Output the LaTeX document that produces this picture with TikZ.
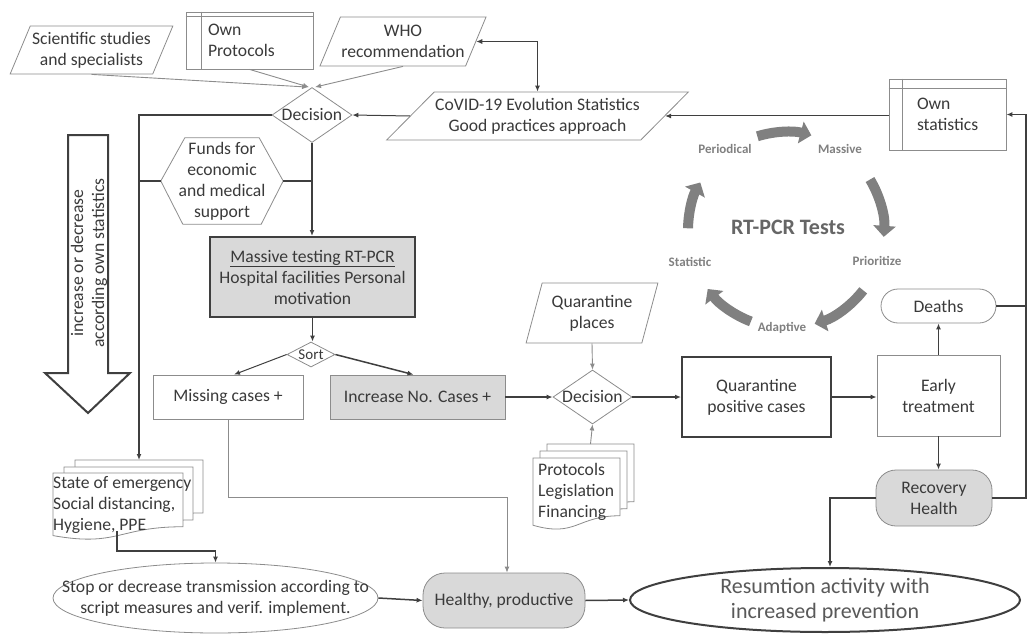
\documentclass[tikz,border=0pt]{standalone}
\usepackage{fontspec}
\setmainfont{Carlito}
\usetikzlibrary{shapes.geometric,shapes.misc,arrows.meta,calc}
\definecolor{txt}{HTML}{3A3A3A}
\definecolor{ln}{HTML}{3F3F3F}
\definecolor{bd}{HTML}{8C8C8C}
\definecolor{gf}{HTML}{D9D9D9}
\definecolor{cy}{HTML}{808080}
\newcommand\flowdoc[4]{%
  \filldraw[draw=bd, line width=0.8pt, fill=white] (#1,#2) -- (#3,#2) -- (#3,{#2+0.802*#4}) .. controls ({(#1+#3)/2},{#2+0.802*#4}) and ({(#1+#3)/2},{#2+1.107*#4}) .. (#1,{#2+0.934*#4}) -- cycle;}
\begin{document}
\begin{tikzpicture}[x=1pt,y=-1pt,
  every node/.style={font=\fontsize{17.6}{21}\selectfont, text=txt},
  base/.style={draw=bd, line width=0.8pt, fill=white},
  para/.style={base, shape=trapezium, trapezium stretches=true, inner sep=1pt, align=center},
  dia/.style={base, shape=diamond, inner sep=0pt},
  tip/.style={-{Latex[length=6pt,width=5pt]}},
  thickln/.style={draw=ln, line width=1.5pt},
  thickar/.style={thickln, tip},
  midar/.style={draw=ln, line width=1pt, tip},
  thinar/.style={draw=bd, line width=0.9pt, tip},
  cyc/.style={draw=cy, line width=10pt, -{Triangle[length=11pt,width=22pt]}},
  cyclab/.style={font=\fontsize{13}{15}\selectfont\bfseries, text=cy}
]
\useasboundingbox (0,0) rectangle (1028,634);

% ---- top inputs
\node[para, trapezium left angle=62.5, trapezium right angle=117.5, minimum width=163pt, minimum height=48pt] (sci) at (91.5,50) {Scientific studies\\and specialists};
\node[base, text width=83pt, inner xsep=22pt, minimum height=57pt, align=left] (ownp) at (249.5,40.5) {Own\\Protocols};
\draw[draw=bd, line width=0.8pt] ($(ownp.north west)+(16,0)$) -- ($(ownp.south west)+(16,0)$)
  ($(ownp.north west)+(0,5)$) -- ($(ownp.north east)+(0,5)$);
\node[para, trapezium left angle=59.4, trapezium right angle=120.6, minimum width=162pt, minimum height=49pt] (who) at (403,41.5) {WHO\\recommendation};

\node[dia, minimum width=80pt, minimum height=55pt] (d1) at (312,115) {};
\node (d1t) at (d1) {Decision};
\node[para, trapezium left angle=38.7, trapezium right angle=141.3, minimum width=299pt, minimum height=48pt] (cov) at (537.5,116) {CoVID-19 Evolution Statistics\\Good practices approach};
\node[base, text width=61pt, inner xsep=28pt, minimum height=71pt, align=left] (owns) at (947.5,114.5) {Own\\statistics};
\draw[draw=bd, line width=0.8pt] ($(owns.north west)+(14,0)$) -- ($(owns.south west)+(14,0)$)
  ($(owns.north west)+(0,10)$) -- ($(owns.north east)+(0,10)$);

% ---- funds hexagon
\node[minimum width=122pt, minimum height=86pt, inner sep=0pt, align=center] (funds) at (222,181) {Funds for\\economic\\and medical\\support};
\draw[draw=bd, line width=0.8pt] (funds.west) -- ($(funds.north west)+(24,0)$) -- ($(funds.north east)+(-24,0)$) -- (funds.east) -- ($(funds.south east)+(-22,0)$) -- ($(funds.south west)+(22,0)$) -- cycle;

% ---- big arrow
\draw[draw=ln, line width=2pt, fill=white] (68,135) -- (108,135) -- (108,373) -- (130,373) -- (88,413) -- (45,373) -- (68,373) -- cycle;
\node[rotate=90, align=center] (bigt) at (89,263) {increase or decrease\\according own statistics};

% ---- middle
\node[draw=ln, line width=2pt, fill=gf, minimum width=205pt, minimum height=80pt, align=center] (mass) at (312.5,277) {\underline{Massive testing RT-PCR}\\Hospital facilities Personal\\motivation};
\node[dia, minimum width=48pt, minimum height=25pt] (sort) at (311,354.5) {};
\node[font=\fontsize{15}{17}\selectfont] (sortt) at (sort) {Sort};
\node[base, minimum width=150pt, minimum height=44pt] (miss) at (228,397) {Missing cases +};
\node[base, fill=gf, minimum width=175pt, minimum height=44pt] (inc) at (417.5,397) {Increase No. Cases +};

\node[dia, minimum width=79pt, minimum height=54pt] (d2) at (592.5,397) {};
\node (d2t) at (d2) {Decision};
\node[para, trapezium left angle=70.7, trapezium right angle=109.3, minimum width=132pt, minimum height=60pt] (qp) at (592,313) {Quarantine\\places};
\flowdoc{547}{444}{634}{72}
\flowdoc{540}{451}{627}{72}
\flowdoc{533}{458}{620}{72}
\node[align=left, anchor=west, inner sep=0pt] (prot) at (538,492) {Protocols\\Legislation\\Financing};
\coordinate (protTop) at (590.5,444);

\node[draw=ln, line width=2pt, fill=white, minimum width=149pt, minimum height=80pt, align=center] (qpos) at (756.5,397) {Quarantine\\positive cases};
\node[base, minimum width=123pt, minimum height=81pt, align=center] (early) at (938.5,395.5) {Early\\treatment};
\node[base, rounded corners=17pt, minimum width=115pt, minimum height=34pt] (deaths) at (938.5,306) {Deaths};
\node[base, fill=gf, rounded corners=20pt, minimum width=116pt, minimum height=56pt, align=center] (recov) at (934,498) {Recovery\\Health};

% ---- state of emergency docs
\flowdoc{75}{460}{203}{66}
\flowdoc{64}{467}{193}{66}
\flowdoc{53}{473}{183}{67}
\node[align=left, anchor=west, inner sep=0pt] (soe) at (53,505) {State of emergency\\Social distancing,\\Hygiene, PPE};
\coordinate (soeTop) at (139,460);
\coordinate (soeBot) at (117,531);

% ---- bottom
\node[base, shape=ellipse, minimum width=325pt, minimum height=70pt] (stop) at (215.5,598) {};
\node[align=center] (stopt) at (stop) {Stop or decrease transmission according to\\script measures and verif. implement.};
\node[base, fill=gf, rounded corners=22pt, minimum width=162pt, minimum height=55pt] (healthy) at (504,600.5) {Healthy, productive};
\node[draw=ln, line width=2pt, fill=white, shape=ellipse, minimum width=390pt, minimum height=64pt] (res) at (825,600) {};
\node[font=\fontsize{22}{25}\selectfont, text=black!65, align=center] (rest) at (res) {Resumtion activity with\\increased prevention};

% ---- cycle
\coordinate (cc) at (786,230);
\node[font=\fontsize{22}{26}\selectfont\bfseries, text=black!60] (rtpcr) at (788,227) {RT-PCR Tests};
\node[cyclab] (lper) at (725,149) {Periodical};
\node[cyclab] (lmas) at (840,149) {Massive};
\node[cyclab] (lpri) at (877,261) {Prioritize};
\node[cyclab] (lada) at (782,328) {Adaptive};
\node[cyclab] (lsta) at (690,262) {Statistic};
\draw[cyc] (cc) ++(-107:98) arc[start angle=107, end angle=75, radius=98pt];
\draw[cyc] (cc) ++(-31:98) arc[start angle=31, end angle=-4, radius=98pt];
\draw[cyc] (cc) ++(38:98) arc[start angle=-38, end angle=-73, radius=98pt];
\draw[cyc] (cc) ++(111:98) arc[start angle=-111, end angle=-143, radius=98pt];
\draw[cyc] (cc) ++(-179:98) arc[start angle=179, end angle=151, radius=98pt];

% ---- connectors
\draw[thinar] (sci.south) -- ($(d1.north)+(-4,0)$);
\draw[thinar] (ownp.south) -- ($(d1.north)+(-3,0)$);
\draw[thinar] (who.south) -- ($(d1.north)+(3,0)$);
\draw[midar] (cov.west) -- (d1.east);
\draw[draw=ln, line width=1pt, {Latex[length=6pt,width=5pt]}-{Latex[length=6pt,width=5pt]}] (who.east) -| (cov.north);
\draw[midar] (owns.west |- cov.east) -- (cov.east);
\draw[thickar] (d1.west) -| (soeTop);
\draw[thickln] (funds.west) -- (funds.west -| soeTop);
\draw[thickln] (funds.east) -- (funds.east -| d1.south);
\draw[thickar] (d1.south) -- (d1.south |- mass.north);
\draw[thickar] (mass.south) -- (mass.south |- sort.north);
\draw[midar] (sort.west) -- ($(miss.north)+(6,0)$);
\draw[thickar] (sort.east) -- ($(inc.north)+(-4,0)$);
\draw[thinar] (miss.south) -- ($(miss.south)+(0,78)$) -| ($(healthy.north)+(3,0)$);
\draw[thickar] (inc.east) -- (d2.west);
\draw[thickar] (d2.east) -- (qpos.west);
\draw[thinar] (qp.south) -- (d2.north);
\draw[thinar] (protTop) -- (d2.south);
\draw[thickar] (qpos.east) -- (qpos.east -| early.west);
\draw[thickar] (early.north) -- (deaths.south);
\draw[thickar] (early.south) -- (early.south |- recov.north);
\draw[thickar] (recov.west) -| ($(res.north)+(5,0)$);
\coordinate (rx) at (1026,0);
\draw[thickar] (recov.east) -- (recov.east -| rx) |- (owns.east);
\draw[thickln] (deaths.east) -- (deaths.east -| rx);
\draw[thickar] (soeBot) -- ++(0,20) -| (stop.north);
\draw[thickar] (stop.east) -- (healthy.west);
\draw[thickar] (healthy.east) -- (res.west);
\end{tikzpicture}
\end{document}
